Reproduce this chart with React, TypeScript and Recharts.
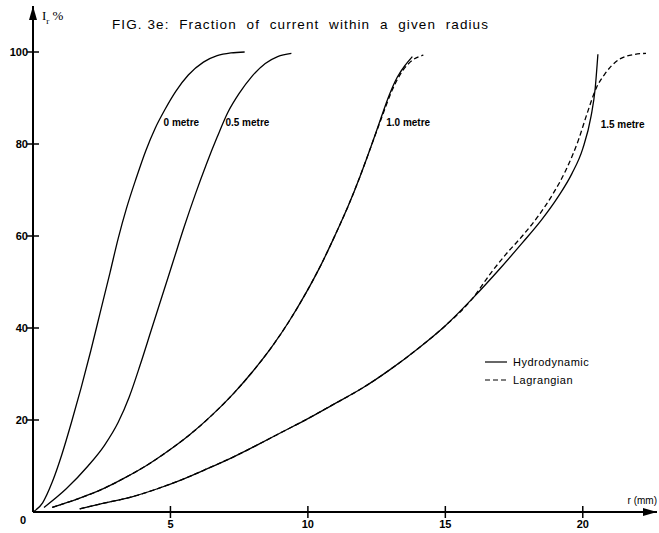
import React from 'react';
import { LineChart, Line, XAxis, YAxis, ReferenceDot } from 'recharts';

const TITLE = 'FIG. 3e:  Fraction  of  current  within  a  given  radius';
const X_TICKS = [5, 10, 15, 20];
const Y_TICKS = [0, 20, 40, 60, 80, 100];
const X_MAX = 22.7;
const Y_MAX = 110;

// Hydrodynamic, 0 metre
const R_H0 = [0, 0.35, 0.7, 1.05, 1.4, 1.75, 2.1, 2.45, 2.8, 3.1, 3.4, 3.75, 4.1, 4.45, 4.8, 5.2, 5.65, 6.2, 6.7, 7.2, 7.7];
const I_H0 = [0, 2, 6.5, 12.5, 19.5, 27, 35, 43.5, 52, 59.5, 66, 72.5, 78.5, 83.5, 87.5, 91.5, 95, 97.8, 99.2, 99.8, 100];

// Hydrodynamic, 0.5 metre
const R_H05 = [0.4, 1.2, 2.0, 2.6, 3.1, 3.5, 3.9, 4.3, 4.7, 5.1, 5.5, 5.9, 6.3, 6.7, 7.1, 7.5, 7.95, 8.45, 8.9, 9.4];
const I_H05 = [1, 5, 10, 14.5, 19.5, 25, 32, 39.5, 47, 54.5, 62, 69, 75.5, 81.5, 87, 91, 94.6, 97.5, 99, 99.7];

// Hydrodynamic, 1.0 metre
const R_H10 = [0.7, 1.6, 2.5, 3.3, 4.1, 4.9, 5.7, 6.5, 7.3, 8.0, 8.7, 9.3, 9.9, 10.5, 11.0, 11.5, 11.9, 12.3, 12.65, 12.95, 13.25, 13.55, 13.8];
const I_H10 = [1, 2.8, 4.9, 7.3, 10, 13.2, 16.8, 21, 25.8, 30.6, 36, 41.3, 47.3, 54, 60.3, 67, 73, 79.5, 85.5, 90.5, 94.5, 97.2, 99];

// Lagrangian, 1.0 metre
const R_L10 = [0.7, 1.6, 2.5, 3.3, 4.1, 4.9, 5.7, 6.5, 7.3, 8.0, 8.7, 9.3, 9.9, 10.5, 11.0, 11.5, 11.9, 12.3, 12.7, 13.05, 13.4, 13.8, 14.2];
const I_L10 = [1, 2.8, 4.9, 7.3, 10, 13.2, 16.8, 21, 25.8, 30.6, 36, 41.3, 47.3, 54, 60.3, 67, 73, 79.5, 86, 91.5, 95.5, 98.2, 99.3];

// Hydrodynamic, 1.5 metre
const R_H15 = [1.7, 2.5, 3.6, 4.5, 5.4, 6.3, 7.3, 8.2, 9.1, 10, 10.9, 12, 13, 14, 15, 16, 17, 17.8, 18.5, 19.1, 19.6, 20.0, 20.3, 20.45, 20.55];
const I_H15 = [0.7, 1.8, 3.3, 5, 7, 9.3, 12, 14.7, 17.5, 20.3, 23.3, 27, 31, 35.5, 40.5, 46.5, 53, 58.5, 63.5, 68.5, 73.5, 79, 86, 92, 99.5];

// Lagrangian, 1.5 metre
const R_L15 = [1.7, 2.5, 3.6, 4.5, 5.4, 6.3, 7.3, 8.2, 9.1, 10, 10.9, 12, 13, 14, 15, 16, 16.6, 17.2, 17.8, 18.4, 18.9, 19.4, 19.85, 20.15, 20.5, 20.8, 21.3, 21.9, 22.3];
const I_L15 = [0.7, 1.8, 3.3, 5, 7, 9.3, 12, 14.7, 17.5, 20.3, 23.3, 27, 31, 35.5, 40.5, 46.5, 51.5, 56, 60, 64.5, 69, 74.5, 81, 86.5, 92.3, 95.2, 98.3, 99.5, 99.7];

const CURVE_LABELS = [
  { text: '0 metre', r: 4.75, i: 84 },
  { text: '0.5 metre', r: 7.0, i: 84 },
  { text: '1.0 metre', r: 12.85, i: 84 },
  { text: '1.5 metre', r: 20.65, i: 83.5 },
];

const LEGEND_ITEMS = [
  { name: 'Hydrodynamic', dash: undefined as string | undefined },
  { name: 'Lagrangian', dash: '5 3' },
];

const zip = (r: number[], v: number[]) => r.map((x, k) => ({ r: x, v: v[k] }));

const FONT = '"Liberation Sans", Arial, sans-serif';

const XTick = (props: any) => {
  const { x, y, payload } = props;
  return (
    <g>
      <line x1={x} x2={x} y1={y - 6} y2={y + 6} stroke="#000" strokeWidth={1.5} />
      <text x={x} y={y + 16} textAnchor="middle" fontSize={11} fontFamily={FONT} fontWeight={600} fill="#000">
        {payload.value}
      </text>
    </g>
  );
};

const YTick = (props: any) => {
  const { x, y, payload } = props;
  if (payload.value === 0) {
    return (
      <text x={x - 7} y={y + 12} textAnchor="end" fontSize={11} fontFamily={FONT} fontWeight={600} fill="#000">0</text>
    );
  }
  return (
    <g>
      <line x1={x - 6} x2={x + 6} y1={y} y2={y} stroke="#000" strokeWidth={1.5} />
      <text x={x - 5} y={y + 4} textAnchor="end" fontSize={11} fontFamily={FONT} fontWeight={600} fill="#000">
        {payload.value}
      </text>
    </g>
  );
};

export default function App() {
  const solid = { stroke: '#000', strokeWidth: 1.3, dot: false, isAnimationActive: false, type: 'monotone' as const, dataKey: 'v' };
  return (
    <div style={{ position: 'absolute', left: 0, top: 0, width: 659, height: 533, background: '#fff' }}>
      <div style={{ position: 'absolute', left: 112, top: 17, fontFamily: FONT, fontSize: 13.5, letterSpacing: 1.1, whiteSpace: 'pre', color: '#000' }}>
        {TITLE}
      </div>
      <div style={{ position: 'absolute', left: 42, top: 8, fontFamily: '"Liberation Serif", serif', fontSize: 13, color: '#000' }}>
        I<sub style={{ fontSize: 9 }}>r</sub> %
      </div>
      <div style={{ position: 'absolute', left: 485, top: 353, fontFamily: FONT, fontSize: 11, letterSpacing: 0.5, color: '#000' }}>
        {LEGEND_ITEMS.map((e) => (
          <div key={e.name} style={{ display: 'flex', alignItems: 'center', height: 18 }}>
            <svg width={22} height={6} style={{ marginRight: 6 }}>
              <line x1={0} x2={22} y1={3} y2={3} stroke="#000" strokeWidth={1.2} strokeDasharray={e.dash} />
            </svg>
            <span>{e.name}</span>
          </div>
        ))}
      </div>
      <LineChart width={659} height={533} margin={{ top: 6, right: 2, bottom: 0, left: 0 }}>
        <XAxis
          type="number"
          dataKey="r"
          domain={[0, X_MAX]}
          ticks={X_TICKS}
          allowDataOverflow
          height={21}
          axisLine={{ stroke: '#000', strokeWidth: 2 }}
          tickLine={false}
          tickSize={0}
          tickMargin={0}
          tick={<XTick />}
        />
        <YAxis
          type="number"
          domain={[0, Y_MAX]}
          ticks={Y_TICKS}
          width={33}
          axisLine={{ stroke: '#000', strokeWidth: 2 }}
          tickLine={false}
          tickSize={0}
          tickMargin={0}
          tick={<YTick />}
        />
        <Line data={zip(R_H0, I_H0)} name="0 metre" {...solid} />
        <Line data={zip(R_H05, I_H05)} name="0.5 metre" {...solid} />
        <Line data={zip(R_H10, I_H10)} name="1.0 metre" {...solid} />
        <Line data={zip(R_L10, I_L10)} name="1.0 metre L" {...solid} strokeDasharray="5 3" />
        <Line data={zip(R_H15, I_H15)} name="1.5 metre" {...solid} />
        <Line data={zip(R_L15, I_L15)} name="1.5 metre L" {...solid} strokeDasharray="5 3" />
        {CURVE_LABELS.map((c) => (
          <ReferenceDot
            key={c.text}
            x={c.r}
            y={c.i}
            ifOverflow="visible"
            shape={(p: any) => (
              <text x={p.cx} y={p.cy} fontSize={10} fontFamily={FONT} fontWeight={600} fill="#000">{c.text}</text>
            )}
          />
        ))}
        <ReferenceDot
          x={X_MAX}
          y={0}
          ifOverflow="visible"
          shape={(p: any) => (
            <g>
              <polygon points={`${p.cx - 14},${p.cy - 4} ${p.cx},${p.cy} ${p.cx - 14},${p.cy + 4}`} fill="#000" />
              <text x={p.cx} y={p.cy - 8} textAnchor="end" fontSize={10} fontFamily={FONT} fill="#000">r (mm)</text>
            </g>
          )}
        />
        <ReferenceDot
          x={0}
          y={Y_MAX}
          ifOverflow="visible"
          shape={(p: any) => (
            <polygon points={`${p.cx - 4},${p.cy + 14} ${p.cx},${p.cy} ${p.cx + 4},${p.cy + 14}`} fill="#000" />
          )}
        />
      </LineChart>
    </div>
  );
}
